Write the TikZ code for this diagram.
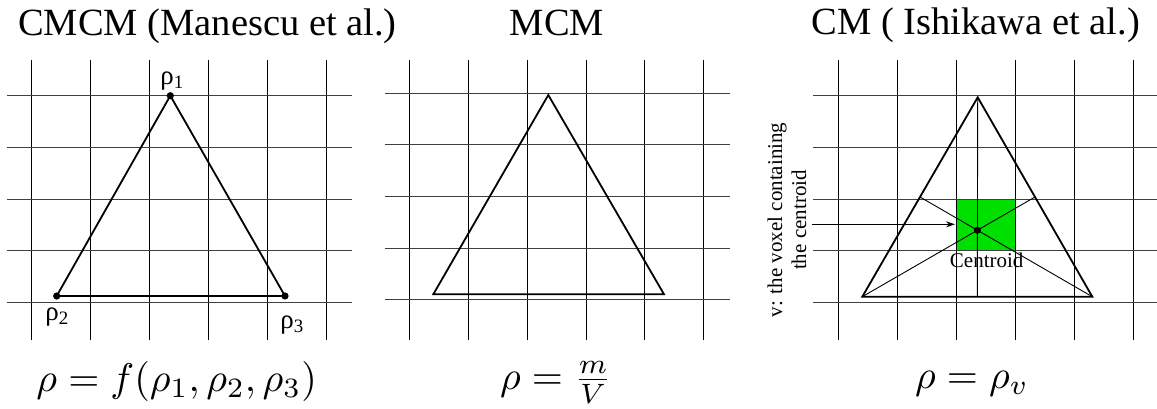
\documentclass[tikz,border=0pt]{standalone}
\usepackage{fontspec}
\setmainfont{Liberation Serif}
\usetikzlibrary{arrows.meta,calc}
\definecolor{voxelgreen}{RGB}{0,224,0}

\begin{document}
\begin{tikzpicture}[x=1pt,y=-1pt,>=Stealth,
  vline/.style={line width=1pt},
  hline/.style={line width=1pt,black!75},
  tri/.style={line width=1.8pt},
  median/.style={line width=0.9pt},
  title/.style={anchor=base,inner sep=0pt,font=\fontsize{38.5}{46}\selectfont},
  formula/.style={anchor=base,inner sep=0pt,scale=4.0},
  rholabel/.style={inner sep=0pt,font=\fontsize{27}{32}\selectfont},
  small/.style={inner sep=0pt,font=\fontsize{21}{24}\selectfont}]
  \useasboundingbox (0,0) rectangle (1157,409);

  % voxel that holds the centroid
  \fill[voxelgreen] (956.5,199) rectangle (1015.4,250.65);

  % the three grids
  \foreach \xo/\yo/\xa/\xb in {31.7/95.7/6.7/351.7, 409.3/93.3/385/730, 838.7/95.7/813.3/1157} {
    \foreach \i in {0,...,5}
      \draw[vline] ({\xo+58.9*\i},60) -- ({\xo+58.9*\i},340);
    \foreach \j in {0,...,4}
      \draw[hline] (\xa,{\yo+51.65*\j}) -- (\xb,{\yo+51.65*\j});
  }

  % titles
  \node[title] (t1) at (207.5,36) {CMCM (Manescu et al.)};
  \node[title] (t2) at (557,36)   {MCM};
  \node[title] (t3) at (976,35)   {CM ( Ishikawa et al.)};

  % CMCM
  \coordinate (a1) at (170.3,95.7);
  \coordinate (b1) at (56.7,296);
  \coordinate (c1) at (285,296);
  \draw[tri] (a1) -- (b1) -- (c1) -- cycle;
  \fill (a1) circle (3.6pt);
  \fill (b1) circle (3.6pt);
  \fill (c1) circle (3.6pt);
  \node[rholabel] (r1) at (172,81)  {ρ\textsubscript{1}};
  \node[rholabel] (r2) at (57,317)  {ρ\textsubscript{2}};
  \node[rholabel] (r3) at (292,325) {ρ\textsubscript{3}};

  % MCM
  \coordinate (a2) at (548.3,95);
  \coordinate (b2) at (433.3,294.3);
  \coordinate (c2) at (664,294.3);
  \draw[tri] (a2) -- (b2) -- (c2) -- cycle;

  % CM
  \coordinate (a3) at (977.7,97.3);
  \coordinate (b3) at (862.3,296.7);
  \coordinate (c3) at (1092.3,296.7);
  \coordinate (ma) at ($(b3)!0.5!(c3)$);
  \coordinate (mb) at ($(a3)!0.5!(c3)$);
  \coordinate (mc) at ($(a3)!0.5!(b3)$);
  \coordinate (g) at (977.4,230.2);
  \draw[median] (a3) -- (ma);
  \draw[median] (b3) -- (mb);
  \draw[median] (c3) -- (mc);
  \draw[tri] (a3) -- (b3) -- (c3) -- cycle;
  \fill (g) circle (3.6pt);
  \node[small,anchor=base] (cen) at (986.7,267.5) {Centroid};
  \node[small,rotate=90,align=center] (vox) at (787,220) {v: the voxel containing\\the centroid};
  \coordinate (vtail) at (811.7,224.3);
  \coordinate (vhead) at (955,224.3);
  \draw[median,-{Stealth[length=9pt,width=6pt]}] (vtail) -- (vhead);

  % densities
  \node[formula] (f1) at (176.7,391) {$\rho = f(\rho_1,\rho_2,\rho_3)$};
  \node[formula] (f2) at (556,389.5) {$\rho = \frac{m}{V}$};
  \node[formula] (f3) at (972,388)   {$\rho = \rho_v$};
\end{tikzpicture}
\end{document}
